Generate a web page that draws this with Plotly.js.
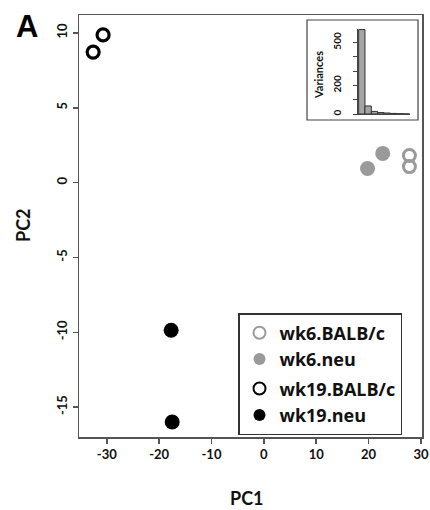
<!DOCTYPE html>
<html><head><meta charset="utf-8">
<script src="https://cdn.plot.ly/plotly-3.0.1.min.js"></script>
<style>body{margin:0;background:#fff}#c{width:430px;height:510px}</style>
</head><body><div id="c"></div>
<script>
// Group names
const groups = ["wk6.BALB/c", "wk6.neu", "wk19.BALB/c", "wk19.neu"];
// PC scores per group
const wk6BALB_pc1 = [27.8, 27.8];
const wk6BALB_pc2 = [1.81, 1.07];
const wk6neu_pc1 = [19.8, 22.7];
const wk6neu_pc2 = [0.94, 1.95];
const wk19BALB_pc1 = [-32.6, -30.7];
const wk19BALB_pc2 = [8.72, 9.87];
const wk19neu_pc1 = [-17.7, -17.5];
const wk19neu_pc2 = [-9.87, -16.0];
// Inset scree plot (variances per component)
const components = [1, 2, 3, 4, 5, 6, 7, 8];
const variances = [590, 56, 18, 10, 7, 4, 2, 1];
// Tick labels
const xTicks = [-30, -20, -10, 0, 10, 20, 30];
const xTickText = ["-30", "-20", "-10", "0", "10", "20", "30"];
const yTicks = [-15, -10, -5, 0, 5, 10];
const yTickText = ["-15", "-10", "-5", "0", "5", "10"];
const insetTickVals = [0, 100, 200, 300, 400, 500];
const insetTickText = ["0", "", "200", "", "", "500"];

const F = "Lato, 'Open Sans', sans-serif";
const FL = "'Open Sans', Lato, sans-serif";
const GRAY = "#9a9a9a";
const AX = "#555";

const traces = [
  {x: wk6BALB_pc1, y: wk6BALB_pc2, name: groups[0], legendgroup: "a", mode: "markers", type: "scatter",
   marker: {symbol: "circle-open", size: 12, color: GRAY, line: {width: 3, color: GRAY}}},
  {x: wk6neu_pc1, y: wk6neu_pc2, name: groups[1], legendgroup: "a", mode: "markers", type: "scatter",
   marker: {symbol: "circle", size: 15, color: GRAY}},
  {x: wk19BALB_pc1, y: wk19BALB_pc2, name: groups[2], legendgroup: "b", mode: "markers", type: "scatter",
   marker: {symbol: "circle-open", size: 12, color: "#000", line: {width: 3.2, color: "#000"}}},
  {x: wk19neu_pc1, y: wk19neu_pc2, name: groups[3], legendgroup: "b", mode: "markers", type: "scatter",
   marker: {symbol: "circle", size: 15, color: "#000"}},
  {x: components, y: variances, type: "bar", xaxis: "x2", yaxis: "y2", showlegend: false, width: 1,
   marker: {color: "#a4a4a4", line: {color: "#333", width: 1}}}
];

const W = 430, H = 510, L = 79, R = 8, T = 15, B = 73;
const pw = W - L - R, ph = H - T - B;
const px = v => (v - L) / pw;
const py = v => (H - B - v) / ph;

const layout = {
  width: W, height: H,
  margin: {l: L, r: R, t: T, b: B},
  paper_bgcolor: "#fff", plot_bgcolor: "#fff",
  showlegend: true,
  font: {family: F, color: "#111"},
  xaxis: {range: [-35.3, 30.2], tickvals: xTicks, ticktext: xTickText, showgrid: false, zeroline: false,
    showline: true, mirror: true, linecolor: AX, linewidth: 1.5,
    ticks: "outside", ticklen: 5, tickwidth: 1.5, tickcolor: AX,
    tickfont: {family: F, size: 13, weight: "bold", color: "#111"}},
  yaxis: {range: [-17.0, 11.2], tickvals: yTicks, ticktext: yTickText, showgrid: false, zeroline: false,
    showline: true, mirror: true, linecolor: AX, linewidth: 1.5,
    ticks: "outside", ticklen: 5, tickwidth: 1.5, tickcolor: AX, tickangle: -90,
    tickfont: {family: F, size: 13, weight: "bold", color: "#111"}},
  xaxis2: {domain: [px(358), px(410)], anchor: "y2", range: [0.4, 8.6], showgrid: false, zeroline: false,
    showticklabels: false, ticks: "", showline: true, linecolor: "#444", linewidth: 1},
  yaxis2: {domain: [py(114), py(29)], anchor: "x2", range: [0, 594], showgrid: false, zeroline: false,
    showline: true, linecolor: "#444", linewidth: 1.2,
    tickvals: insetTickVals, ticktext: insetTickText, ticks: "outside", ticklen: 4, tickcolor: "#444",
    ticklabelstandoff: 8,
    tickangle: -90, tickfont: {family: F, size: 10, weight: "bold", color: "#111"}},
  legend: {x: px(238), y: py(313), xanchor: "left", yanchor: "top",
    bordercolor: "#333", borderwidth: 1.5, bgcolor: "#fff",
    font: {family: FL, size: 18, weight: "bold", color: "#111"},
    traceorder: "grouped", tracegroupgap: 3, itemsizing: "constant", entrywidth: 165},
  shapes: [
    {type: "rect", xref: "paper", yref: "paper", x0: px(307), x1: px(418), y0: py(120), y1: py(20),
     line: {color: "#444", width: 1.2}, fillcolor: "rgba(0,0,0,0)"}
  ],
  annotations: [
    {text: "A", xref: "paper", yref: "paper", x: px(14), y: py(7), xanchor: "left", yanchor: "top",
     showarrow: false, font: {family: "'Liberation Sans', Arial, sans-serif", size: 31, weight: "bold", color: "#000"}},
    {text: "PC2", xref: "paper", yref: "paper", x: px(23), y: py(225), textangle: -90,
     xanchor: "center", yanchor: "middle",
     showarrow: false, font: {family: F, size: 18, weight: "bold", color: "#111"}},
    {text: "PC1", xref: "paper", yref: "paper", x: px(247), y: py(498),
     xanchor: "center", yanchor: "middle",
     showarrow: false, font: {family: F, size: 18, weight: "bold", color: "#111"}},
    {text: "Variances", xref: "paper", yref: "paper", x: px(318), y: py(75), textangle: -90,
     xanchor: "center", yanchor: "middle",
     showarrow: false, font: {family: F, size: 11, weight: "bold", color: "#111"}}
  ]
};

Plotly.newPlot("c", traces, layout, {displayModeBar: false, staticPlot: true});
</script></body></html>
